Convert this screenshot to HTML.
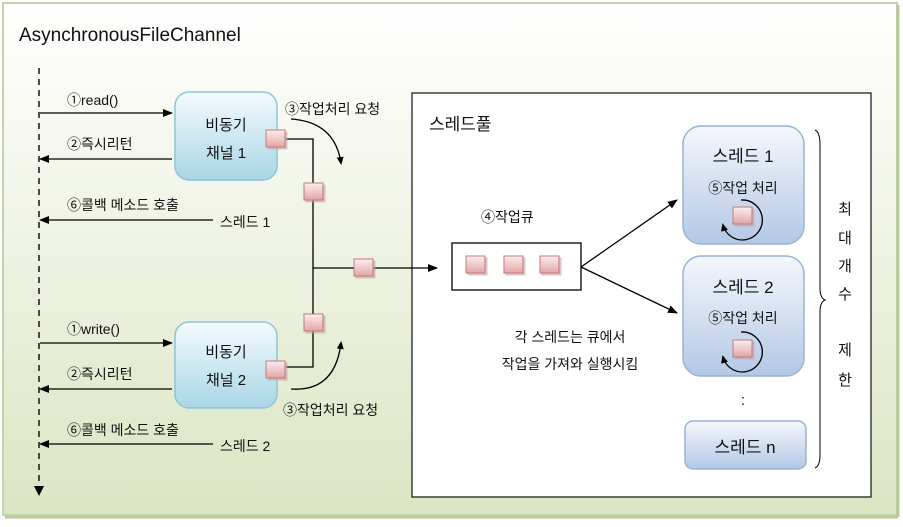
<!DOCTYPE html>
<html><head><meta charset="utf-8"><style>
html,body{margin:0;padding:0;background:#fff;}
svg text{font-family:"Liberation Sans","Noto Sans CJK KR",sans-serif;fill:#111;}
</style></head><body>
<svg width="903" height="522" viewBox="0 0 903 522" xmlns="http://www.w3.org/2000/svg">
<defs>
<linearGradient id="bg" x1="0" y1="0" x2="0" y2="1">
<stop offset="0" stop-color="#ffffff"/><stop offset="0.35" stop-color="#f3f6ea"/><stop offset="1" stop-color="#dbe5c3"/>
</linearGradient>
<linearGradient id="ch" x1="0" y1="0" x2="0" y2="1">
<stop offset="0" stop-color="#f4fbfd"/><stop offset="1" stop-color="#a9d6e6"/>
</linearGradient>
<linearGradient id="th" x1="0" y1="0" x2="0" y2="1">
<stop offset="0" stop-color="#f5f8fc"/><stop offset="1" stop-color="#b3c8e6"/>
</linearGradient>
<linearGradient id="sq" x1="0" y1="0" x2="0" y2="1">
<stop offset="0" stop-color="#fbeeee"/><stop offset="1" stop-color="#e3a6a8"/>
</linearGradient>
<marker id="ar" markerWidth="10" markerHeight="8" refX="9" refY="4" orient="auto" markerUnits="userSpaceOnUse">
<path d="M0,0 L10,4 L0,8 z" fill="#000"/></marker>
<marker id="ar2" markerWidth="8" markerHeight="7" refX="6" refY="3.5" orient="auto" markerUnits="userSpaceOnUse">
<path d="M0,0 L8,3.5 L0,7 z" fill="#000"/></marker>
<g id="s"><rect x="1.5" y="1.5" width="20" height="18" fill="#c8a0a0" opacity="0.6"/><rect x="0" y="0" width="19" height="17" fill="url(#sq)" stroke="#c07a7c" stroke-width="1"/></g>
</defs>
<rect x="3" y="3" width="894" height="512" fill="url(#bg)" stroke="#c4d4a6" stroke-width="2"/>
<line x1="898" y1="5" x2="898" y2="517" stroke="#b9c99a" stroke-width="3"/>
<line x1="5" y1="517" x2="898" y2="517" stroke="#b9c99a" stroke-width="3"/>
<text x="19" y="41" font-size="19">AsynchronousFileChannel</text>
<line x1="39" y1="68" x2="39" y2="486" stroke="#222" stroke-width="1.6" stroke-dasharray="6,5"/>
<path d="M34,486 L44,486 L39,496 z" fill="#000"/>

<!-- channel 1 -->
<text x="67" y="105" font-size="14">①read()</text>
<line x1="40" y1="113" x2="172" y2="113" stroke="#000" stroke-width="1.3" marker-end="url(#ar)"/>
<rect x="175" y="92" width="102" height="88" rx="14" fill="url(#ch)" stroke="#8cc6d8" stroke-width="1.5"/>
<text x="226" y="130" font-size="15" text-anchor="middle">비동기</text>
<text x="226" y="158" font-size="15" text-anchor="middle">채널 1</text>
<text x="67" y="149" font-size="14">②즉시리턴</text>
<line x1="172" y1="159" x2="40" y2="159" stroke="#000" stroke-width="1.3" marker-end="url(#ar)"/>
<text x="67" y="210" font-size="14">⑥콜백 메소드 호출</text>
<line x1="213" y1="220" x2="40" y2="220" stroke="#000" stroke-width="1.3" marker-end="url(#ar)"/>
<text x="220" y="227" font-size="14">스레드 1</text>
<text x="285" y="114" font-size="14">③작업처리 요청</text>
<path d="M291,119 Q335,122 341,163" fill="none" stroke="#000" stroke-width="1.3" marker-end="url(#ar2)"/>

<!-- channel 2 -->
<text x="67" y="334" font-size="14">①write()</text>
<line x1="40" y1="343" x2="172" y2="343" stroke="#000" stroke-width="1.3" marker-end="url(#ar)"/>
<rect x="175" y="322" width="102" height="86" rx="14" fill="url(#ch)" stroke="#8cc6d8" stroke-width="1.5"/>
<text x="226" y="357" font-size="15" text-anchor="middle">비동기</text>
<text x="226" y="385" font-size="15" text-anchor="middle">채널 2</text>
<text x="67" y="379" font-size="14">②즉시리턴</text>
<line x1="172" y1="389" x2="40" y2="389" stroke="#000" stroke-width="1.3" marker-end="url(#ar)"/>
<text x="67" y="435" font-size="14">⑥콜백 메소드 호출</text>
<line x1="213" y1="444" x2="40" y2="444" stroke="#000" stroke-width="1.3" marker-end="url(#ar)"/>
<text x="220" y="451" font-size="14">스레드 2</text>
<text x="283" y="415" font-size="14">③작업처리 요청</text>
<path d="M291,389 Q335,392 341,343" fill="none" stroke="#000" stroke-width="1.3" marker-end="url(#ar2)"/>

<!-- thread pool -->
<rect x="412" y="93" width="459" height="404" fill="#fff" stroke="#222" stroke-width="1.3"/>

<!-- connectors -->
<polyline points="286,139 313,139 313,367 286,367" fill="none" stroke="#000" stroke-width="1.3"/>
<line x1="313" y1="268" x2="437" y2="268" stroke="#000" stroke-width="1.3" marker-end="url(#ar)"/>
<use href="#s" x="266" y="130"/>
<use href="#s" x="304" y="183"/>
<use href="#s" x="354" y="259"/>
<use href="#s" x="304" y="314"/>
<use href="#s" x="266" y="361"/>

<text x="429" y="130" font-size="17">스레드풀</text>
<text x="481" y="222" font-size="14">④작업큐</text>
<rect x="452" y="243" width="129" height="47" fill="#fff" stroke="#000" stroke-width="1.3"/>
<use href="#s" x="466" y="256"/>
<use href="#s" x="504" y="256"/>
<use href="#s" x="540" y="256"/>
<line x1="581" y1="267" x2="677" y2="200" stroke="#000" stroke-width="1.3" marker-end="url(#ar)"/>
<line x1="581" y1="267" x2="677" y2="313" stroke="#000" stroke-width="1.3" marker-end="url(#ar)"/>
<text x="570" y="342" font-size="14" text-anchor="middle">각 스레드는 큐에서</text>
<text x="570" y="369" font-size="14" text-anchor="middle">작업을 가져와 실행시킴</text>

<rect x="683" y="126" width="121" height="118" rx="18" fill="url(#th)" stroke="#98b3d6" stroke-width="1.5"/>
<text x="743" y="162" font-size="17" text-anchor="middle">스레드 1</text>
<text x="743" y="193" font-size="14" text-anchor="middle">⑤작업 처리</text>
<use href="#s" x="733" y="207"/>
<path d="M741,200 A20,20 0 1 1 723,225" fill="none" stroke="#000" stroke-width="1.3" marker-end="url(#ar2)"/>

<rect x="683" y="256" width="121" height="120" rx="18" fill="url(#th)" stroke="#98b3d6" stroke-width="1.5"/>
<text x="743" y="293" font-size="17" text-anchor="middle">스레드 2</text>
<text x="743" y="323" font-size="14" text-anchor="middle">⑤작업 처리</text>
<use href="#s" x="733" y="340"/>
<path d="M741,332 A20,20 0 1 1 723,357" fill="none" stroke="#000" stroke-width="1.3" marker-end="url(#ar2)"/>

<text x="743" y="405" font-size="15" text-anchor="middle">:</text>
<rect x="685" y="421" width="121" height="48" rx="8" fill="url(#th)" stroke="#98b3d6" stroke-width="1.5"/>
<text x="745" y="453" font-size="17" text-anchor="middle">스레드  n</text>

<path d="M815,130 Q820,132 820,145 L820,288 Q820,298 825,300 Q820,302 820,312 L820,455 Q820,466 815,468" fill="none" stroke="#000" stroke-width="1"/>
<g font-size="15" text-anchor="middle">
<text x="845" y="214">최</text><text x="845" y="243">대</text><text x="845" y="271">개</text><text x="845" y="299">수</text>
<text x="845" y="355">제</text><text x="845" y="385">한</text>
</g>
</svg>
</body></html>
